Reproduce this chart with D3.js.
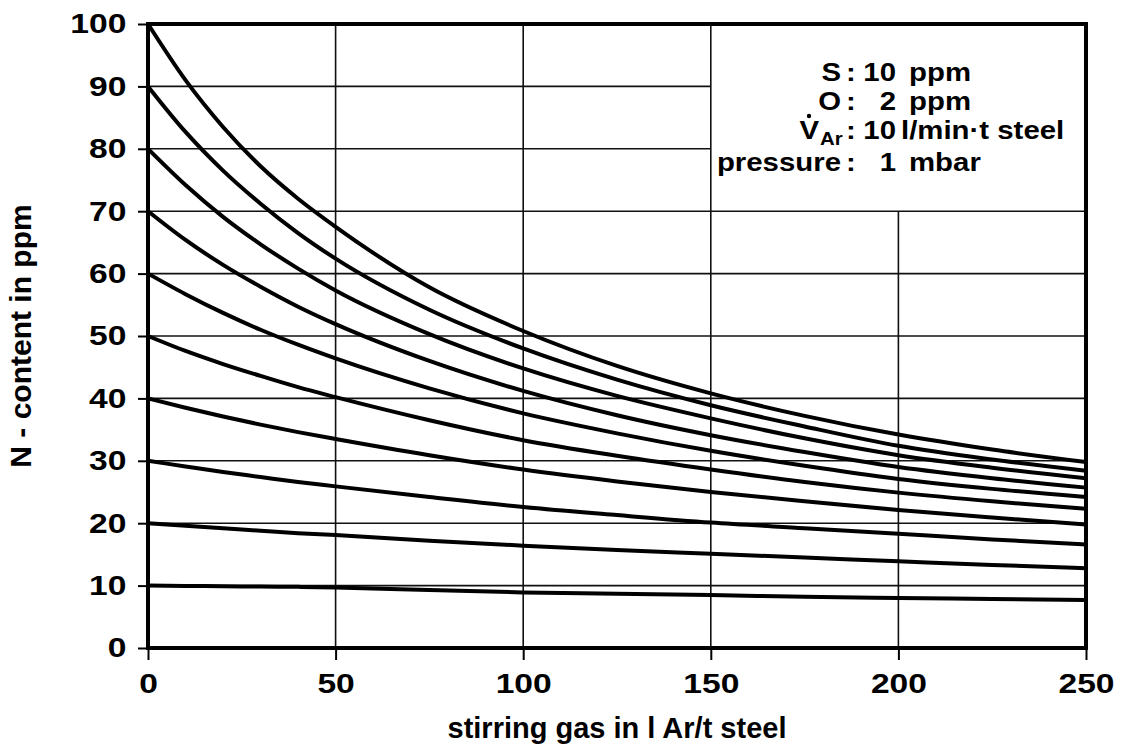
<!DOCTYPE html>
<html>
<head>
<meta charset="utf-8">
<script src="https://cdn.jsdelivr.net/npm/d3@7"></script>
<style>
  html, body { margin: 0; padding: 0; background: #fff; }
  svg { display: block; font-family: "Liberation Sans", Arial, Helvetica, sans-serif; }
</style>
</head>
<body>
<div id="chart"></div>
<script>
// stirring gas (l Ar / t steel) where the curves were read
const gasAmount = [0, 10, 20, 30, 40, 50, 75, 100, 125, 150, 175, 200, 225, 250];

// N content (ppm), one curve per start value
const n100 = [100, 91, 83.5, 77.2, 72, 67.5, 57.8, 50.8, 45.2, 40.8, 37.2, 34.2, 31.8, 29.8];
const n90  = [90, 82.7, 76.5, 71.2, 66.5, 62.4, 54.2, 48, 43, 38.9, 35.5, 32.4, 30.2, 28.4];
const n80  = [80, 74.2, 69.1, 64.7, 60.8, 57.3, 50.3, 44.8, 40.4, 36.8, 33.6, 30.9, 28.9, 27.2];
const n70  = [70, 65.4, 61.4, 57.9, 54.7, 51.9, 46, 41.2, 37.3, 34.1, 31.4, 29.0, 27.2, 25.7];
const n60  = [60, 56.7, 53.7, 51, 48.6, 46.4, 41.6, 37.6, 34.4, 31.6, 29.2, 27.1, 25.5, 24.2];
const n50  = [50, 47.6, 45.5, 43.6, 41.8, 40.2, 36.5, 33.3, 30.8, 28.6, 26.6, 24.9, 23.5, 22.3];
const n40  = [40, 38.5, 37.1, 35.8, 34.6, 33.5, 30.9, 28.6, 26.7, 25, 23.5, 22.1, 20.9, 19.8];
const n30  = [30, 29.1, 28.2, 27.4, 26.6, 25.9, 24.2, 22.6, 21.3, 20.1, 19.2, 18.3, 17.4, 16.6];
const n20  = [20, 19.6, 19.2, 18.8, 18.4, 18.1, 17.2, 16.4, 15.7, 15.1, 14.5, 13.9, 13.3, 12.8];
const n10  = [10, 9.95, 9.9, 9.85, 9.8, 9.7, 9.3, 8.9, 8.7, 8.5, 8.2, 8.0, 7.85, 7.7];

const curves = [n100, n90, n80, n70, n60, n50, n40, n30, n20, n10];

const xTicks = [0, 50, 100, 150, 200, 250];
const yTicks = [0, 10, 20, 30, 40, 50, 60, 70, 80, 90, 100];

const xTitle = "stirring gas in l Ar/t steel";
const yTitle = "N - content in ppm";

const width = 1124, height = 748;
const margin = {top: 24, right: 38, bottom: 100, left: 148};

const svg = d3.select("#chart").append("svg")
    .attr("width", width)
    .attr("height", height);

const x = d3.scaleLinear()
    .domain([0, 250])
    .range([margin.left, width - margin.right]);

const y = d3.scaleLinear()
    .domain([0, 100])
    .range([height - margin.bottom, margin.top]);

// grid (the upper right corner is left blank for the notes)
const grid = svg.append("g")
    .attr("stroke", "#111")
    .attr("stroke-width", 1.6);

grid.selectAll("line.h")
  .data(yTicks.filter(d => d > 0 && d < 100))
  .enter().append("line")
    .attr("class", "h")
    .attr("x1", x(0))
    .attr("x2", d => d >= 80 ? x(150) : x(250))
    .attr("y1", d => y(d))
    .attr("y2", d => y(d));

grid.selectAll("line.v")
  .data(xTicks.filter(d => d > 0 && d < 250))
  .enter().append("line")
    .attr("class", "v")
    .attr("x1", d => x(d))
    .attr("x2", d => x(d))
    .attr("y1", y(0))
    .attr("y2", d => d > 150 ? y(70) : y(100));

// curves
let line = d3.line()
    .x((d, i) => x(gasAmount[i]))
    .y(d => y(d))
    .curve(d3.curveMonotoneX);

svg.append("g")
  .selectAll("path")
  .data(curves)
  .enter().append("path")
    .attr("d", line)
    .attr("fill", "none")
    .attr("stroke", "#000")
    .attr("stroke-width", 4)
    .attr("stroke-linejoin", "round");

// axes
let tickFont = 28, tickStretch = 1.2;

let xAxis = g => g
    .attr("transform", `translate(0,${y(0)})`)
    .call(d3.axisBottom(x).tickValues(xTicks).tickSize(12).tickSizeOuter(0).tickPadding(13))
    .call(g => g.select(".domain").remove())
    .call(g => g.selectAll("line").attr("stroke", "#000").attr("stroke-width", 2))
    .call(g => g.selectAll("text")
        .attr("fill", "#000")
        .attr("font-size", tickFont)
        .attr("font-weight", "bold")
        .attr("transform", `scale(${tickStretch},1)`));

let yAxis = g => g
    .attr("transform", `translate(${x(0)},0)`)
    .call(d3.axisLeft(y).tickValues(yTicks).tickSize(10).tickSizeOuter(0).tickPadding(8))
    .call(g => g.select(".domain").remove())
    .call(g => g.selectAll("line").attr("stroke", "#000").attr("stroke-width", 2))
    .call(g => g.selectAll("text")
        .attr("fill", "#000")
        .attr("font-size", tickFont)
        .attr("font-weight", "bold")
        .attr("transform", `scale(${tickStretch},1)`));

svg.append("g").call(xAxis);
svg.append("g").call(yAxis);

// frame
svg.append("rect")
    .attr("x", x(0))
    .attr("y", y(100))
    .attr("width", x(250) - x(0))
    .attr("height", y(0) - y(100))
    .attr("fill", "none")
    .attr("stroke", "#000")
    .attr("stroke-width", 4);

// axis titles
svg.append("text")
    .attr("x", (x(0) + x(250)) / 2)
    .attr("y", 738)
    .attr("text-anchor", "middle")
    .attr("font-size", 29)
    .attr("font-weight", "bold")
    .text(xTitle);

svg.append("text")
    .attr("transform", `translate(31,${(y(0) + y(100)) / 2}) rotate(-90)`)
    .attr("text-anchor", "middle")
    .attr("font-size", 30)
    .attr("font-weight", "bold")
    .text(yTitle);

// notes in the upper right corner
const noteLabels = ["S", "O", "V", "pressure"];
const noteNumbers = ["10", "2", "10", "1"];
const noteUnits = ["ppm", "ppm", "l/min\u00b7t steel", "mbar"];
const noteBaselines = [81, 110, 139, 171];

let noteFont = 26, noteStretch = 1.13;
let notes = svg.append("g")
    .attr("font-size", noteFont)
    .attr("font-weight", "bold")
    .attr("fill", "#000");

noteLabels.forEach((label, i) => {
  let base = noteBaselines[i];
  let t = notes.append("text")
      .attr("text-anchor", "end")
      .attr("transform", `translate(${i === 2 ? 819 : 841},${base}) scale(${noteStretch},1)`);
  t.text(label);
  if (i === 2) {
    // V with a dot above and Ar as subscript
    notes.append("circle")
        .attr("cx", 809)
        .attr("cy", base - 23)
        .attr("r", 2.2);
    notes.append("text")
        .attr("font-size", 18)
        .attr("transform", `translate(820,${base + 6}) scale(${noteStretch},1)`)
        .text("Ar");
  }
  notes.append("text")
      .attr("text-anchor", "middle")
      .attr("transform", `translate(851,${base}) scale(${noteStretch},1)`)
      .text(":");
  notes.append("text")
      .attr("text-anchor", "end")
      .attr("transform", `translate(896,${base}) scale(${noteStretch},1)`)
      .text(noteNumbers[i]);
  notes.append("text")
      .attr("transform", `translate(${i === 2 ? 901 : 909},${base}) scale(${noteStretch},1)`)
      .text(noteUnits[i]);
});
</script>
</body>
</html>
